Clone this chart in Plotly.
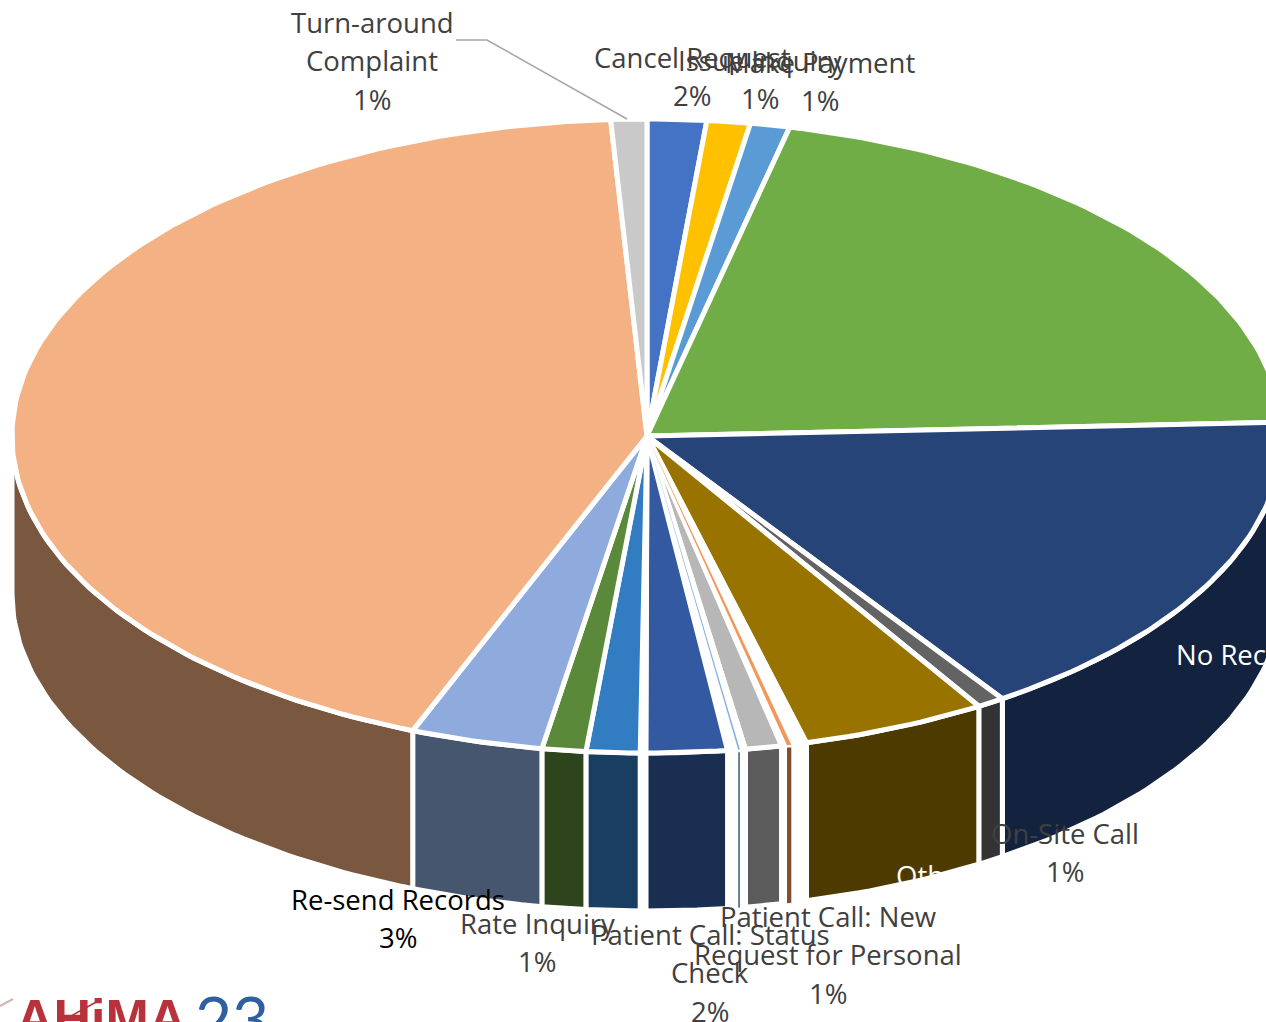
import math
import plotly.graph_objects as go

# Share of each call reason, clockwise from twelve o'clock.
categories = [
    "Cancel Request", "Issue Inquiry", "Make Payment", "Medical Records", "No Records",
    "On-Site Call", "Others", "sliver a", "Patient Call: Existing", "sliver b",
    "Patient Call: New Request for Personal", "sliver c", "Patient Call: Other", "sliver d",
    "Patient Call: Status Check", "sliver e", "Provider Inquiry", "Rate Inquiry",
    "Re-send Records", "Records Request", "Turn-around Complaint",
]
values = [
    1.5, 1.1, 1.0, 20.65, 16.2,
    0.7, 4.7, 0.39, 0.11, 0.14,
    0.92, 0.14, 0.04, 0.27,
    2.05, 0.14, 1.36, 1.11,
    3.36, 42.97, 0.91,
]
face_colors = [
    "#4472C4", "#FFC000", "#5B9BD5", "#70AD47", "#264478",
    "#636363", "#997300", "#FFFFFF", "#F1975A", "#FFFFFF",
    "#B7B7B7", "#FFFFFF", "#7CAFDD", "#FFFFFF",
    "#335AA1", "#FFFFFF", "#327DC2", "#5A8A39",
    "#8FAADC", "#F4B183", "#C9C9C9",
]
side_colors = [
    "#223962", "#7F6000", "#2E4E6B", "#385723", "#13233F",
    "#333333", "#4D3A00", "#FFFFFF", "#7F4E2C", "#FFFFFF",
    "#5C5C5C", "#FFFFFF", "#3E5F8A", "#FFFFFF",
    "#1A2E52", "#FFFFFF", "#1A3E62", "#2D441C",
    "#47566F", "#7A5840", "#646464",
]
thin_slices = {"Patient Call: Existing", "Patient Call: Other"}

# Label wording per line; white labels sit on the dark side walls and carry no share row.
label_lines = {
    "Turn-around Complaint": ["Turn-around", "Complaint"],
    "Cancel Request": ["Cancel Request"],
    "Issue Inquiry": ["Issue Inquiry"],
    "Make Payment": ["Make Payment"],
    "On-Site Call": ["On-Site Call"],
    "Others": ["Others"],
    "No Records": ["No Records"],
    "Re-send Records": ["Re-send Records"],
    "Rate Inquiry": ["Rate Inquiry"],
    "Patient Call: Status Check": ["Patient Call: Status", "Check"],
    "Patient Call: New Request for Personal": ["Patient Call: New", "Request for Personal"],
}
label_places = {
    "Turn-around Complaint": (372, 22, "#404040"),
    "Cancel Request": (692, 57, "#404040"),
    "Issue Inquiry": (760, 60, "#404040"),
    "Make Payment": (820, 62, "#404040"),
    "On-Site Call": (1065, 833, "#404040"),
    "Others": (940, 875, "#FFFFFF"),
    "No Records": (1250, 654, "#FFFFFF"),
    "Re-send Records": (398, 899, "#000000"),
    "Rate Inquiry": (537, 923, "#404040"),
    "Patient Call: Status Check": (710, 934, "#404040"),
    "Patient Call: New Request for Personal": (828, 916, "#404040"),
}

WIDTH, HEIGHT = 1266, 1022
CX, CY, RX, RY, DEPTH = 647, 436, 635, 317, 158
OUTLINE = 5
LABEL_FONT = "Open Sans, sans-serif"
LABEL_SIZE = 27.5
LINE_PITCH = 38.5


def rim(theta_deg, drop=0.0):
    t = math.radians(theta_deg)
    return CX + RX * math.sin(t), CY - RY * math.cos(t) + drop


def arc(a, b, drop=0.0):
    n = max(2, int(abs(b - a)) + 2)
    return [rim(a + (b - a) * i / (n - 1), drop) for i in range(n)]


def wedge_trace(points, color, width):
    xs, ys = zip(*points)
    return go.Scatter(
        x=list(xs) + [xs[0]], y=list(ys) + [ys[0]], mode="lines", fill="toself",
        fillcolor=color, line=dict(color="#FFFFFF", width=width),
        hoverinfo="skip", showlegend=False,
    )


total = sum(values)
spans = []
running = 0.0
for value in values:
    spans.append((running / total * 360, (running + value) / total * 360))
    running += value

fig = go.Figure()

# Thin slices go on top of their neighbours' white outlines, so two passes.
for name, (a, b), side in zip(categories, spans, side_colors):
    lo, hi = max(a, 90), min(b, 270)
    if name not in thin_slices and lo < hi:
        fig.add_trace(wedge_trace(arc(lo, hi) + arc(hi, lo, DEPTH), side, OUTLINE))
for name, (a, b), side in zip(categories, spans, side_colors):
    lo, hi = max(a, 90), min(b, 270)
    if name in thin_slices and lo < hi:
        fig.add_trace(wedge_trace(arc(lo, hi) + arc(hi, lo, DEPTH), side, 0))

for name, (a, b), face in zip(categories, spans, face_colors):
    if name not in thin_slices:
        fig.add_trace(wedge_trace([(CX, CY)] + arc(a, b), face, OUTLINE))
for name, (a, b), face in zip(categories, spans, face_colors):
    if name in thin_slices:
        fig.add_trace(wedge_trace([(CX, CY)] + arc(a, b), face, 0))

# Leader line from the Turn-around Complaint label to its slice.
fig.add_shape(
    type="path", path="M 456 40 L 487 40 L 627 119",
    line=dict(color="#A6A6A6", width=1.5),
)

# Swooshes of the conference logo.
fig.add_shape(type="line", x0=0, y0=1006, x1=13, y1=999, line=dict(color="#D8B4B4", width=2))
fig.add_shape(type="line", x0=62, y0=1021, x1=98, y1=1001, line=dict(color="#B8323C", width=1.5))

annotations = []
for name, lines in label_lines.items():
    x, y, color = label_places[name]
    share = values[categories.index(name)]
    rows = lines if color == "#FFFFFF" else lines + [f"{round(share)}%"]
    for row, text in enumerate(rows):
        annotations.append(dict(
            x=x, y=y + row * LINE_PITCH, text=text, showarrow=False,
            xanchor="center", yanchor="middle",
            font=dict(family=LABEL_FONT, size=LABEL_SIZE, color=color),
        ))

# Conference logo along the bottom edge, cut off by the page.
annotations.append(dict(
    x=101, y=1018, text="AHiMA", showarrow=False, xanchor="center", yanchor="middle",
    font=dict(family="Liberation Sans, sans-serif", size=52, color="#B8323C", weight=700),
))
annotations.append(dict(
    x=232, y=1018, text="23", showarrow=False, xanchor="center", yanchor="middle",
    font=dict(family="Lato, sans-serif", size=64, color="#2F5F9E"),
))

fig.update_layout(
    width=WIDTH, height=HEIGHT, margin=dict(l=0, r=0, t=0, b=0),
    paper_bgcolor="#FFFFFF", plot_bgcolor="#FFFFFF", showlegend=False,
    xaxis=dict(range=[0, WIDTH], visible=False, fixedrange=True),
    yaxis=dict(range=[HEIGHT, 0], visible=False, fixedrange=True),
    annotations=annotations,
)
fig.write_html("out.html", config=dict(displayModeBar=False))
